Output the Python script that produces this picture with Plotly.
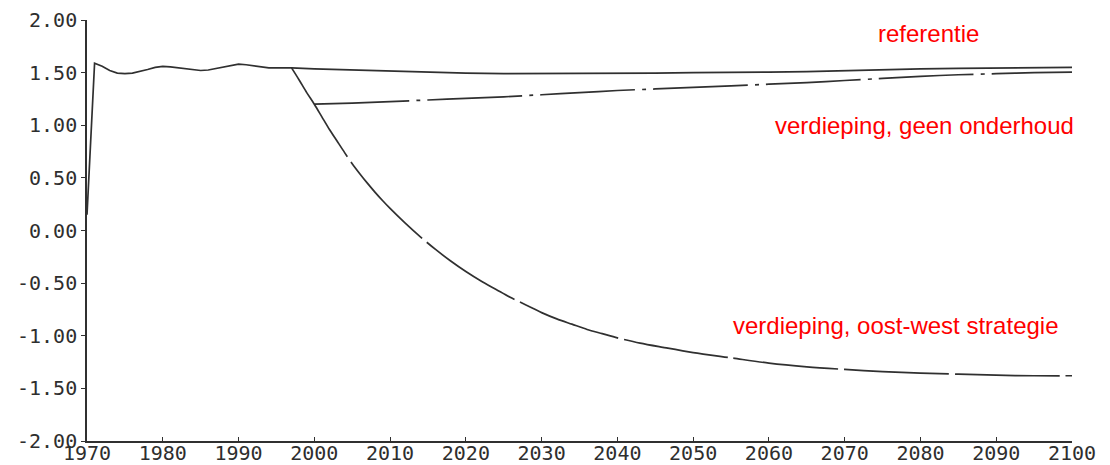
import plotly.graph_objects as go

# Referentie: historical run-in and reference projection
ref_years = [1970, 1971, 1972, 1973, 1974, 1975, 1976, 1977, 1978, 1979, 1980,
             1981, 1982, 1983, 1984, 1985, 1986, 1987, 1988, 1989, 1990,
             1991, 1992, 1993, 1994, 1995, 1996, 1997,
             2000, 2005, 2010, 2015, 2020, 2025, 2030, 2035, 2040, 2045, 2050,
             2055, 2060, 2065, 2070, 2075, 2080, 2085, 2090, 2095, 2100]
ref_values = [0.15, 1.59, 1.56, 1.52, 1.495, 1.49, 1.495, 1.51, 1.53, 1.55, 1.56,
              1.555, 1.545, 1.535, 1.53, 1.52, 1.525, 1.54, 1.555, 1.57, 1.58,
              1.575, 1.565, 1.55, 1.545, 1.545, 1.545, 1.545,
              1.535, 1.525, 1.51, 1.50, 1.495, 1.49, 1.49, 1.49, 1.49, 1.495, 1.50,
              1.50, 1.505, 1.51, 1.52, 1.53, 1.535, 1.54, 1.545, 1.55, 1.55]

# Verdieping, oost-west strategie
ow_years = [1997, 1998, 1999, 2000, 2001, 2002, 2003, 2004, 2005, 2006, 2007,
            2008, 2009, 2010, 2012, 2014, 2016, 2018, 2020, 2022, 2024, 2026,
            2028, 2030, 2032, 2034, 2036, 2038, 2040, 2043, 2046, 2050, 2055,
            2060, 2065, 2070, 2075, 2080, 2085, 2090, 2095, 2100]
ow_values = [1.545, 1.43, 1.31, 1.20, 1.08, 0.96, 0.85, 0.74, 0.635, 0.54, 0.45,
             0.365, 0.285, 0.21, 0.07, -0.06, -0.18, -0.29, -0.39, -0.48, -0.56, -0.64,
             -0.71, -0.78, -0.84, -0.89, -0.94, -0.98, -1.02, -1.07, -1.11, -1.16, -1.21,
             -1.26, -1.295, -1.32, -1.34, -1.355, -1.365, -1.375, -1.38, -1.38]

# Verdieping, geen onderhoud
go_years = [2000, 2005, 2010, 2015, 2020, 2025, 2030, 2035, 2040, 2045, 2050,
            2055, 2060, 2065, 2070, 2075, 2080, 2085, 2090, 2095, 2100]
go_values = [1.20, 1.21, 1.225, 1.24, 1.255, 1.27, 1.29, 1.31, 1.33, 1.345, 1.36,
             1.375, 1.39, 1.405, 1.425, 1.445, 1.465, 1.48, 1.49, 1.50, 1.505]

y_ticks = [-2.0, -1.5, -1.0, -0.5, 0.0, 0.5, 1.0, 1.5, 2.0]
y_labels = ["-2.00", "-1.50", "-1.00", "-0.50", "0.00", "0.50", "1.00", "1.50", "2.00"]
x_ticks = list(range(1970, 2101, 10))

labels = ["referentie", "verdieping, geen onderhoud", "verdieping, oost-west strategie"]
label_x = [2081.1, 2080.5, 2076.8]
label_y = [1.87, 1.00, -0.90]

LINE = "#303030"
TICK_FONT = dict(family="DejaVu Sans Mono", size=20, color="#2e2e2e")

fig = go.Figure()
fig.add_trace(go.Scatter(x=ref_years, y=ref_values, mode="lines",
                         line=dict(color=LINE, width=1.7), showlegend=False))
fig.add_trace(go.Scatter(x=ow_years, y=ow_values, mode="lines",
                         line=dict(color=LINE, width=1.7, dash="105px,6px",
                                   shape="spline", smoothing=0.8),
                         showlegend=False))
fig.add_trace(go.Scatter(x=go_years, y=go_values, mode="lines",
                         line=dict(color=LINE, width=1.7, dash="95px,7px,4px,7px",
                                   shape="spline", smoothing=0.6),
                         showlegend=False))

for text, lx, ly in zip(labels, label_x, label_y):
    fig.add_annotation(x=lx, y=ly, xref="x", yref="y", text=text, showarrow=False,
                       xanchor="center", yanchor="middle",
                       font=dict(family="Liberation Sans, Arial", size=24, color="#ff0000"))

fig.update_xaxes(range=[1970, 2100], tickvals=x_ticks, ticks="inside", ticklen=4,
                 tickwidth=1.2, tickcolor=LINE, showline=True, linecolor=LINE,
                 linewidth=1.6, showgrid=False, zeroline=False, tickfont=TICK_FONT,
                 ticklabelstandoff=-7, automargin=False)
fig.update_yaxes(range=[-2, 2], tickvals=y_ticks, ticktext=y_labels, ticks="outside",
                 ticklen=4, tickwidth=1.2, tickcolor=LINE, showline=True,
                 linecolor=LINE, linewidth=1.6, showgrid=False, zeroline=False,
                 tickfont=TICK_FONT, automargin=False)

fig.update_layout(width=1110, height=465, margin=dict(l=87, r=38, t=20, b=24),
                  plot_bgcolor="white", paper_bgcolor="white")

fig.write_html("out.html")
